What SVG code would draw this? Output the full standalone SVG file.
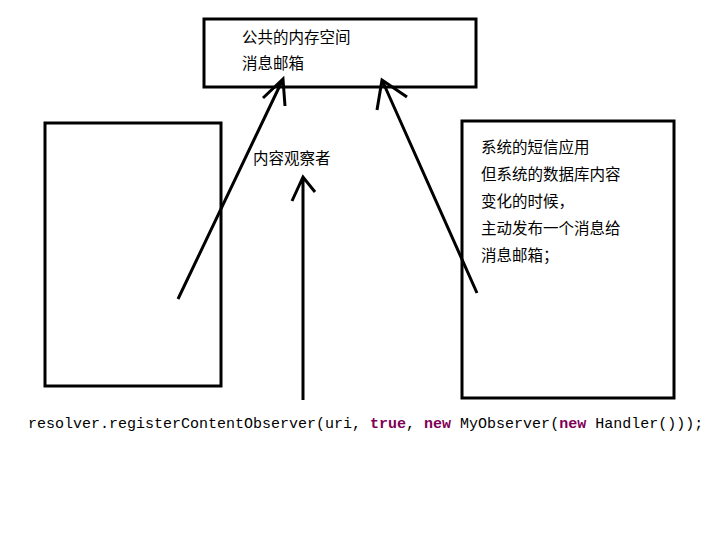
<svg xmlns="http://www.w3.org/2000/svg" width="721" height="544" viewBox="0 0 721 544">
<style>
.box{fill:none;stroke:#000;stroke-width:3}
.ln{fill:none;stroke:#000;stroke-width:3;stroke-linecap:butt}
.cn{font-family:"Noto Sans CJK SC","Noto Sans",sans-serif;font-size:15.5px;fill:#000}
.code{font-family:"Liberation Mono","DejaVu Sans Mono",monospace;font-size:15px;fill:#000}
.kw{font-weight:bold;fill:#7F0055}
</style>
<rect width="721" height="544" fill="#fff"/>
<g id="shared-memory">
<rect class="box" x="204" y="19" width="272" height="68"/>
<text class="cn" x="242" y="43">公共的内存空间</text>
<text class="cn" x="242" y="69">消息邮箱</text>
</g>
<g id="left-app">
<rect class="box" x="45" y="123" width="176" height="263"/>
</g>
<g id="sms-app">
<rect class="box" x="462" y="121" width="212" height="277"/>
<text class="cn" x="481" y="153">系统的短信应用</text>
<text class="cn" x="481" y="180">但系统的数据库内容</text>
<text class="cn" x="481" y="207">变化的时候，</text>
<text class="cn" x="481" y="234">主动发布一个消息给</text>
<text class="cn" x="481" y="261">消息邮箱；</text>
</g>
<g id="observer-label">
<text class="cn" x="253" y="164">内容观察者</text>
</g>
<g id="code">
<text class="code" x="28" y="428">resolver.registerContentObserver(uri, <tspan class="kw">true</tspan>, <tspan class="kw">new</tspan> MyObserver(<tspan class="kw">new</tspan> Handler()));</text>
</g>
<g id="connectors">
<path class="ln" d="M178,299 L283,79 M263,98 L283,79 L285,106"/>
<path class="ln" d="M303,400 L303,177 M292,201 L303,177 L315,192"/>
<path class="ln" d="M477,293 L382,80 M377,110 L382,80 L407,97"/>
</g>
</svg>
